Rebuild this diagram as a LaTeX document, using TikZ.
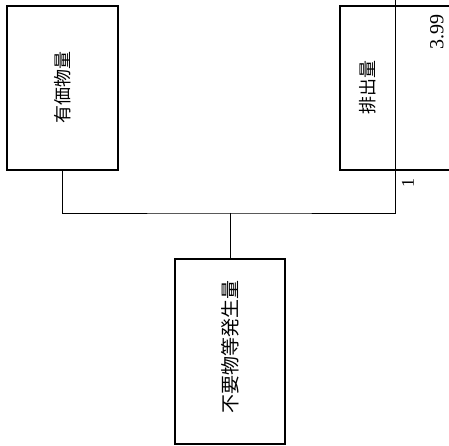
\documentclass[tikz,border=0pt]{standalone}
\usepackage{fontspec}
\setmainfont{Liberation Serif}
\newfontfamily\jpfont{Noto Sans CJK JP}
\usetikzlibrary{positioning}

\tikzset{
  box/.style={draw,line width=1.2pt,inner sep=0pt},
  link/.style={line width=0.9pt},
  jptext/.style={rotate=90,inner sep=0pt,font=\jpfont\fontsize{18}{18}\selectfont}
}

\begin{document}
\begin{tikzpicture}[x=1pt,y=-1pt]
   \useasboundingbox (0,0) rectangle (449,446);
   % boxes
   \node[box,minimum width=111pt,minimum height=164pt] (goods) at (62.5,88) {};
   \node[box,minimum width=111pt,minimum height=164pt] (emit) at (395.5,88) {};
   \node[box,minimum width=110pt,minimum height=185pt] (waste) at (230,351.5) {};

   % labels
   \node[jptext] (goodslabel) at (goods) {有価物量};
   \node[jptext] (emitlabel) at (368,88) {排出量};
   \node[jptext,font=\jpfont\fontsize{19}{19}\selectfont] (wastelabel) at (230,347) {不要物等発生量};
   \node[rotate=90,inner sep=0pt,font=\fontsize{20}{20}\selectfont] (value) at (437,32) {3.99};
   \node[rotate=90,inner sep=0pt,font=\fontsize{18}{18}\selectfont] (mark) at (408,183) {1};

   % connectors
   \coordinate (top) at (395.5,0);
   \coordinate (fork) at (230,213);
   \draw[link] (goods.south) |- (fork) -| (top);
   \draw[link] (fork) -- (waste.north);
\end{tikzpicture}
\end{document}
